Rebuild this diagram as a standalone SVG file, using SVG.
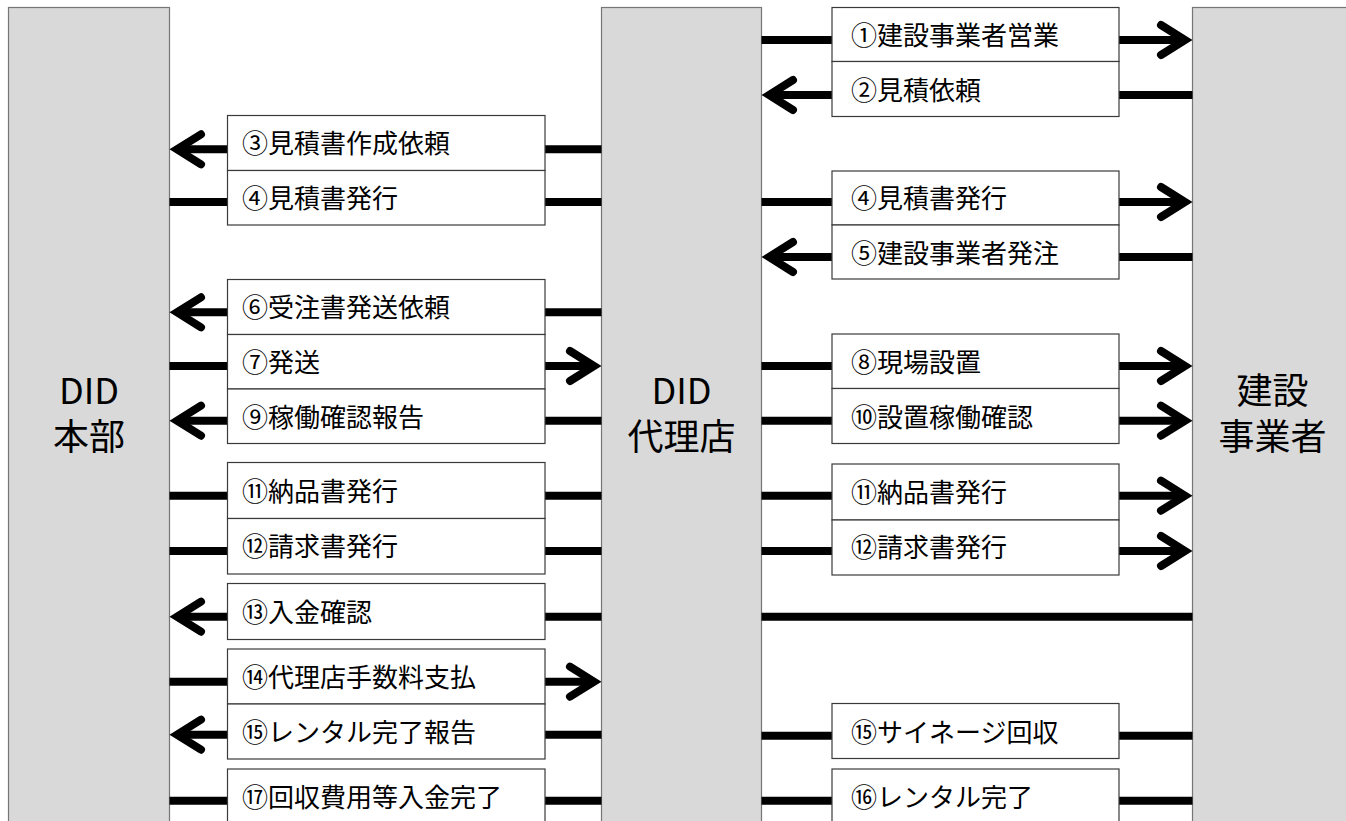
<svg xmlns="http://www.w3.org/2000/svg" width="1346" height="821" viewBox="0 0 1346 821">
<defs>
<style>
.col{fill:#d9d9d9;stroke:#767676;stroke-width:1.2}
.box{fill:#ffffff;stroke:#3a3a3a;stroke-width:1.2}
.lbl{font-family:"Noto Sans CJK JP","Noto Sans",sans-serif;font-size:26px;fill:#000}
.hd{font-family:"Noto Sans CJK JP","Noto Sans",sans-serif;font-size:36px;fill:#000;text-anchor:middle}
.ln{stroke:#000;stroke-width:8;fill:none}
.ar{marker-end:url(#ah)}
</style>
<marker id="ah" markerUnits="userSpaceOnUse" viewBox="-40 -25 60 50" refX="0" refY="0" markerWidth="60" markerHeight="50" orient="auto" overflow="visible">
<path d="M-24,-15 L0,0 L-24,15" fill="none" stroke="#000" stroke-width="8" stroke-linecap="round" stroke-linejoin="miter"/>
</marker>
</defs>
<rect width="1346" height="821" fill="#ffffff"/>

<g id="col-honbu">
<rect class="col" x="8.5" y="7.5" width="161" height="830"/>
<text class="hd" x="89" y="404">DID</text>
<text class="hd" x="89" y="450">本部</text>
</g>
<g id="col-dairiten">
<rect class="col" x="601.5" y="7.5" width="160" height="830"/>
<text class="hd" x="681.5" y="404">DID</text>
<text class="hd" x="681.5" y="450">代理店</text>
</g>
<g id="col-kensetsu">
<rect class="col" x="1192.5" y="7.5" width="160" height="830"/>
<text class="hd" x="1272.5" y="404">建設</text>
<text class="hd" x="1272.5" y="450">事業者</text>
</g>

<g id="connectors">
<!-- left section -->
<line class="ln ar" x1="601.5" y1="149.3" x2="177" y2="149.3"/>
<line class="ln" x1="169.5" y1="202" x2="601.5" y2="202"/>
<line class="ln ar" x1="601.5" y1="312.3" x2="177" y2="312.3"/>
<line class="ln ar" x1="169.5" y1="366" x2="594" y2="366"/>
<line class="ln ar" x1="601.5" y1="420.7" x2="177" y2="420.7"/>
<line class="ln" x1="169.5" y1="495.7" x2="601.5" y2="495.7"/>
<line class="ln" x1="169.5" y1="551" x2="601.5" y2="551"/>
<line class="ln ar" x1="601.5" y1="616.7" x2="177" y2="616.7"/>
<line class="ln ar" x1="169.5" y1="681.7" x2="594" y2="681.7"/>
<line class="ln ar" x1="601.5" y1="734.7" x2="177" y2="734.7"/>
<line class="ln" x1="169.5" y1="800.7" x2="601.5" y2="800.7"/>
<!-- right section -->
<line class="ln ar" x1="761.5" y1="40" x2="1185" y2="40"/>
<line class="ln ar" x1="1192.5" y1="95" x2="769" y2="95"/>
<line class="ln ar" x1="761.5" y1="202" x2="1185" y2="202"/>
<line class="ln ar" x1="1192.5" y1="257" x2="769" y2="257"/>
<line class="ln ar" x1="761.5" y1="366" x2="1185" y2="366"/>
<line class="ln ar" x1="761.5" y1="420.7" x2="1185" y2="420.7"/>
<line class="ln ar" x1="761.5" y1="495.7" x2="1185" y2="495.7"/>
<line class="ln ar" x1="761.5" y1="551" x2="1185" y2="551"/>
<line class="ln" x1="761.5" y1="616.7" x2="1192.5" y2="616.7"/>
<line class="ln" x1="761.5" y1="735.7" x2="1192.5" y2="735.7"/>
<line class="ln" x1="761.5" y1="800.7" x2="1192.5" y2="800.7"/>
</g>

<g id="l03"><rect class="box" x="227.5" y="115.5" width="317.5" height="55"/><text class="lbl" x="242" y="153">③見積書作成依頼</text></g>
<g id="l04"><rect class="box" x="227.5" y="170.5" width="317.5" height="54.5"/><text class="lbl" x="242" y="208">④見積書発行</text></g>
<g id="l06"><rect class="box" x="227.5" y="279.5" width="317.5" height="55"/><text class="lbl" x="242" y="317">⑥受注書発送依頼</text></g>
<g id="l07"><rect class="box" x="227.5" y="334.5" width="317.5" height="54.5"/><text class="lbl" x="242" y="372">⑦発送</text></g>
<g id="l09"><rect class="box" x="227.5" y="389" width="317.5" height="54.5"/><text class="lbl" x="242" y="426.5">⑨稼働確認報告</text></g>
<g id="l11"><rect class="box" x="227.5" y="462.5" width="317.5" height="56"/><text class="lbl" x="242" y="500.5">⑪納品書発行</text></g>
<g id="l12"><rect class="box" x="227.5" y="518.5" width="317.5" height="55.5"/><text class="lbl" x="242" y="556">⑫請求書発行</text></g>
<g id="l13"><rect class="box" x="227.5" y="583.5" width="317.5" height="56"/><text class="lbl" x="242" y="621.5">⑬入金確認</text></g>
<g id="l14"><rect class="box" x="227.5" y="649" width="317.5" height="55"/><text class="lbl" x="242" y="686.5">⑭代理店手数料支払</text></g>
<g id="l15"><rect class="box" x="227.5" y="704" width="317.5" height="55"/><text class="lbl" x="242" y="741.5">⑮レンタル完了報告</text></g>
<g id="l17"><rect class="box" x="227.5" y="769" width="317.5" height="70"/><text class="lbl" x="242" y="806.5">⑰回収費用等入金完了</text></g>

<g id="r01"><rect class="box" x="832" y="7.5" width="287" height="54"/><text class="lbl" x="851" y="45">①建設事業者営業</text></g>
<g id="r02"><rect class="box" x="832" y="61.5" width="287" height="55"/><text class="lbl" x="851" y="99.5">②見積依頼</text></g>
<g id="r04"><rect class="box" x="832" y="171" width="287" height="54"/><text class="lbl" x="851" y="208">④見積書発行</text></g>
<g id="r05"><rect class="box" x="832" y="225" width="287" height="54"/><text class="lbl" x="851" y="262.5">⑤建設事業者発注</text></g>
<g id="r08"><rect class="box" x="832" y="334" width="287" height="54.5"/><text class="lbl" x="851" y="372">⑧現場設置</text></g>
<g id="r10"><rect class="box" x="832" y="388.5" width="287" height="55"/><text class="lbl" x="851" y="426.5">⑩設置稼働確認</text></g>
<g id="r11"><rect class="box" x="832" y="464" width="287" height="56"/><text class="lbl" x="851" y="501.5">⑪納品書発行</text></g>
<g id="r12"><rect class="box" x="832" y="520" width="287" height="55"/><text class="lbl" x="851" y="557">⑫請求書発行</text></g>
<g id="r15"><rect class="box" x="832" y="703.5" width="287" height="55"/><text class="lbl" x="851" y="741.5">⑮サイネージ回収</text></g>
<g id="r16"><rect class="box" x="832" y="769" width="287" height="70"/><text class="lbl" x="851" y="806.5">⑯レンタル完了</text></g>
</svg>
